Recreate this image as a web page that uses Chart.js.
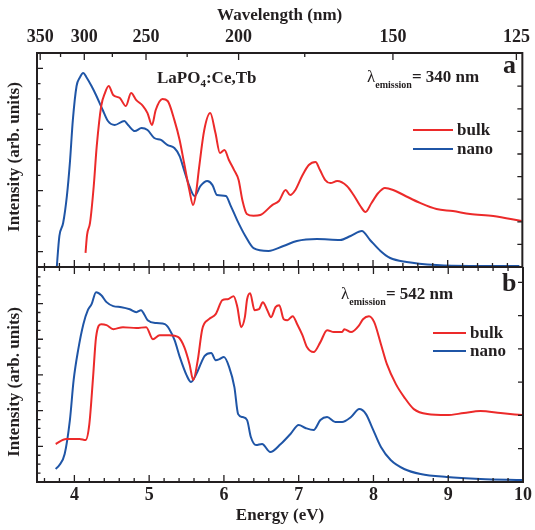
<!DOCTYPE html>
<html>
<head>
<meta charset="utf-8">
<script src="https://cdn.jsdelivr.net/npm/chart.js@4"></script>
<style>
  html, body { margin: 0; padding: 0; background: #fff; }
  #wrap { position: relative; width: 535px; height: 530px; }
  #top { position: absolute; left: 0; top: 0; }
  #bot { position: absolute; left: 0; top: 267px; }
</style>
</head>
<body>
<div id="wrap">
  <canvas id="top" width="535" height="268"></canvas>
  <canvas id="bot" width="535" height="263"></canvas>
</div>
<script>
// --- dati (energia in eV, intensità in unità arbitrarie) ---
const wavelengthLabels = [350, 300, 250, 200, 150, 125];
const wavelengthMinor = [325, 275, 225, 175];
const energyLabels = [4, 5, 6, 7, 8, 9, 10];

// pannello a: emissione 340 nm
const bulkAEnergy = [4.15,4.17,4.21,4.26,4.30,4.36,4.41,4.46,4.52,4.61,4.69,4.76,4.83,4.92,4.98,5.04,5.09,5.18,5.25,5.34,5.41,5.47,5.54,5.59,5.63,5.67,5.74,5.82,5.89,5.95,6.01,6.07,6.14,6.20,6.25,6.31,6.40,6.49,6.65,6.74,6.83,6.89,6.96,7.05,7.14,7.23,7.29,7.36,7.43,7.52,7.65,7.74,7.83,7.90,7.98,8.07,8.16,8.27,8.41,8.63,8.85,9.07,9.30,9.61,9.99];
const bulkAIntensity = [0.92,2.09,2.88,5.30,7.91,10.53,11.38,11.84,11.25,11.05,10.53,11.38,10.92,10.53,10.07,9.29,10.27,10.99,10.86,9.61,8.31,6.80,5.04,4.05,4.84,6.47,8.96,10.07,8.76,7.46,7.65,7.00,6.34,5.69,4.38,3.47,3.35,3.40,4.05,4.32,5.04,4.71,5.04,5.95,6.67,6.87,6.34,5.69,5.49,5.62,5.30,4.71,3.99,3.60,4.19,4.84,5.17,5.04,4.71,4.19,3.79,3.66,3.47,3.34,3.01];
const nanoAEnergy = [3.76,3.80,3.85,3.90,3.94,3.98,4.03,4.07,4.12,4.16,4.23,4.29,4.38,4.45,4.54,4.67,4.72,4.81,4.90,4.98,5.07,5.16,5.25,5.34,5.41,5.47,5.54,5.61,5.69,5.78,5.85,5.91,6.03,6.09,6.18,6.29,6.40,6.60,6.80,6.98,7.25,7.56,7.70,7.85,7.96,8.10,8.23,8.45,8.85,9.30,9.96];
const nanoAIntensity = [-0.3,2.03,2.88,4.64,6.80,9.61,11.84,12.36,12.69,12.43,11.84,11.25,10.27,9.55,9.29,9.55,9.29,8.89,9.09,8.96,8.44,8.31,7.98,7.78,7.26,6.34,5.30,4.64,5.30,5.62,5.36,4.71,4.64,4.05,3.07,2.03,1.24,1.05,1.37,1.70,1.83,1.77,2.03,2.35,1.77,1.05,0.59,0.33,0.13,0.07,0.07];

// pannello b: emissione 542 nm
const bulkBEnergy = [3.75,3.89,4.07,4.15,4.20,4.25,4.29,4.36,4.43,4.52,4.65,4.83,4.96,5.05,5.14,5.27,5.39,5.47,5.54,5.59,5.65,5.71,5.80,5.89,5.98,6.05,6.13,6.18,6.23,6.28,6.31,6.35,6.41,6.47,6.52,6.58,6.63,6.69,6.74,6.80,6.85,6.92,6.98,7.05,7.11,7.20,7.29,7.38,7.47,7.58,7.61,7.70,7.81,7.86,7.94,8.01,8.10,8.18,8.30,8.41,8.54,8.72,8.98,9.21,9.43,9.70,9.99];
const bulkBIntensity = [4.26,4.82,4.82,4.70,6.49,11.76,16.24,17.69,17.58,17.13,17.36,17.25,17.36,16.01,16.46,16.46,16.24,15.12,13.21,11.42,13.66,17.13,18.25,18.81,20.38,20.49,20.83,19.60,17.36,18.48,20.49,21.16,19.26,19.37,20.16,19.26,18.48,19.60,19.82,18.25,18.14,18.59,17.69,16.46,15.12,14.56,15.68,17.02,16.80,16.80,17.13,16.80,17.58,18.25,18.59,17.92,15.45,13.21,10.97,9.52,8.17,7.61,7.50,7.73,7.95,7.73,7.50];
const nanoBEnergy = [3.75,3.80,3.87,3.94,3.99,4.05,4.12,4.18,4.23,4.29,4.36,4.43,4.52,4.63,4.74,4.83,4.89,4.98,5.10,5.21,5.27,5.34,5.41,5.50,5.56,5.63,5.70,5.74,5.83,5.89,5.94,6.00,6.07,6.14,6.19,6.25,6.31,6.36,6.43,6.51,6.62,6.76,6.89,7.00,7.09,7.20,7.29,7.38,7.49,7.58,7.70,7.81,7.90,7.98,8.10,8.23,8.41,8.63,8.98,9.43,9.99];
const nanoBIntensity = [1.46,1.90,3.14,6.94,11.42,14.78,17.69,19.26,19.93,21.28,20.94,20.16,19.71,19.60,19.37,19.04,19.26,18.14,17.81,17.69,17.13,15.90,14.00,11.98,11.20,12.09,13.44,14.11,14.45,13.66,13.77,14.00,12.88,10.64,7.61,7.28,6.94,5.04,4.14,4.26,3.36,4.26,5.38,6.38,6.05,5.82,6.94,7.28,6.72,6.72,7.28,8.17,7.61,6.16,3.92,2.46,1.46,0.90,0.56,0.34,0.22];

const EV_NM = 1240; // E(eV) = 1240 / lambda(nm)

const SERIF = '"Liberation Serif", "Times New Roman", serif';
const INK = '#231f20';
const RED = '#ec2a2a';
const BLUE = '#1f55a6';
const B17 = 'bold 17px ' + SERIF;

const zip = (xs, ys) => xs.map((x, i) => ({ x, y: ys[i] }));

// tacche dell'energia: ogni 0.2 eV, le principali sugli interi
const energyTicks = [];
for (let k = 18; k <= 49; k++) energyTicks.push({ value: k / 5, major: k % 5 === 0 });
const wavelengthTicks = wavelengthLabels.map(w => ({ value: EV_NM / w, major: true }))
  .concat(wavelengthMinor.map(w => ({ value: EV_NM / w, major: false })));

// cornice con tacche rivolte verso l'interno
const frame = {
  id: 'frame',
  afterDatasetsDraw(chart, args, o) {
    const { ctx, chartArea: a, scales } = chart;
    const x = scales.x, y = scales.y, y2 = scales.y2;
    ctx.save();
    ctx.strokeStyle = INK;
    ctx.lineWidth = 1.3;
    ctx.beginPath();
    const seg = (x0, y0, x1, y1) => { ctx.moveTo(x0, y0); ctx.lineTo(x1, y1); };
    o.topTicks.forEach(t => {
      const px = x.getPixelForValue(t.value);
      seg(px, a.top, px, a.top + (t.major ? 7 : 4));
    });
    o.bottomTicks.forEach(t => {
      const px = x.getPixelForValue(t.value);
      seg(px, a.bottom, px, a.bottom - (t.major ? 7 : 4));
    });
    y.ticks.forEach(t => {
      if (t.value <= y.min || t.value >= y.max) return;
      const py = y.getPixelForValue(t.value);
      const major = (t.value - o.leftMajorFrom) % 4 === 0;
      seg(a.left, py, a.left + (major ? 6 : 3.5), py);
    });
    y2.ticks.forEach(t => {
      if (t.value <= 0 || !Number.isInteger(t.value)) return;
      const py = y2.getPixelForValue(t.value);
      seg(a.right, py, a.right - 5, py);
    });
    ctx.stroke();
    ctx.lineWidth = 2;
    ctx.strokeRect(a.left, a.top, a.right - a.left, a.bottom - a.top);
    ctx.restore();
  }
};

// testi: etichette, legenda e titolo dell'asse y
const notes = {
  id: 'notes',
  afterDraw(chart, args, o) {
    const ctx = chart.ctx;
    ctx.save();
    ctx.fillStyle = INK;
    ctx.textBaseline = 'alphabetic';
    ctx.textAlign = 'left';
    o.runs.forEach(run => {
      let x = run.x;
      run.parts.forEach(p => {
        ctx.font = p.font;
        ctx.fillText(p.text, x, run.y + (p.dy || 0));
        x += ctx.measureText(p.text).width;
      });
    });
    o.legend.forEach((l, i) => {
      const ds = chart.data.datasets[i];
      ctx.strokeStyle = ds.borderColor;
      ctx.lineWidth = 2;
      ctx.beginPath();
      ctx.moveTo(l.x0, l.y);
      ctx.lineTo(l.x1, l.y);
      ctx.stroke();
      ctx.font = B17;
      ctx.fillText(ds.label, l.x1 + 4, l.y + 5);
    });
    ctx.translate(o.yTitle.x, o.yTitle.y);
    ctx.rotate(-Math.PI / 2);
    ctx.textAlign = 'center';
    ctx.textBaseline = 'middle';
    ctx.font = B17;
    ctx.fillText('Intensity (arb. units)', 0, 0);
    ctx.restore();
  }
};

const noLabels = {
  ticks: { display: false, stepSize: 1 },
  grid: { display: false, drawTicks: false },
  border: { display: false }
};

function lineSet(label, color, data) {
  return {
    label, data,
    borderColor: color,
    borderWidth: 2,
    pointRadius: 0,
    cubicInterpolationMode: 'monotone',
    fill: false
  };
}

function emissionRun(x, y, nm) {
  return {
    x, y, parts: [
      { text: 'λ', font: '17px ' + SERIF },
      { text: 'emission', font: 'bold 10px ' + SERIF, dy: 6 },
      { text: '= ' + nm + ' nm', font: B17 }
    ]
  };
}

// --- pannello superiore (a) ---
new Chart(document.getElementById('top'), {
  type: 'line',
  data: {
    datasets: [
      lineSet('bulk', RED, zip(bulkAEnergy, bulkAIntensity)),
      lineSet('nano', BLUE, zip(nanoAEnergy, nanoAIntensity))
    ]
  },
  options: {
    responsive: false,
    animation: false,
    layout: { padding: { top: 0, bottom: 1, left: 0, right: 0 } },
    plugins: {
      legend: { display: false },
      tooltip: { enabled: false },
      frame: { topTicks: wavelengthTicks, bottomTicks: energyTicks, leftMajorFrom: 1 },
      notes: {
        runs: [
          { x: 157, y: 83, parts: [
            { text: 'LaPO', font: B17 },
            { text: '4', font: 'bold 11px ' + SERIF, dy: 4 },
            { text: ':Ce,Tb', font: B17 }
          ] },
          emissionRun(367, 82, 340),
          { x: 503, y: 73, parts: [{ text: 'a', font: 'bold 26px ' + SERIF }] }
        ],
        legend: [{ x0: 413, x1: 453, y: 130 }, { x0: 413, x1: 453, y: 149 }],
        yTitle: { x: 15, y: 157 }
      }
    },
    scales: {
      x: {
        type: 'linear', position: 'top', min: 3.5, max: 10,
        afterBuildTicks: s => { s.ticks = wavelengthLabels.map(w => ({ value: EV_NM / w })); },
        ticks: {
          autoSkip: false, maxRotation: 0, padding: 5, color: INK,
          font: { family: SERIF, size: 18, weight: 'bold' },
          callback: (v, i) => wavelengthLabels[i]
        },
        grid: { display: false, drawTicks: false },
        border: { display: false },
        title: {
          display: true, text: 'Wavelength (nm)', color: INK,
          font: { family: SERIF, size: 17, weight: 'bold' },
          padding: { top: 5, bottom: 0 }
        },
        afterFit: s => { s.height = 53; }
      },
      y: { position: 'left', min: 0, max: 14, ...noLabels, afterFit: s => { s.width = 37; } },
      y2: { position: 'right', min: 0, max: 9.47, ...noLabels, afterFit: s => { s.width = 10; } }
    }
  },
  plugins: [frame, notes]
});

// --- pannello inferiore (b) ---
new Chart(document.getElementById('bot'), {
  type: 'line',
  data: {
    datasets: [
      lineSet('bulk', RED, zip(bulkBEnergy, bulkBIntensity)),
      lineSet('nano', BLUE, zip(nanoBEnergy, nanoBIntensity))
    ]
  },
  options: {
    responsive: false,
    animation: false,
    layout: { padding: 0 },
    plugins: {
      legend: { display: false },
      tooltip: { enabled: false },
      frame: { topTicks: energyTicks, bottomTicks: energyTicks, leftMajorFrom: 0 },
      notes: {
        runs: [
          emissionRun(341, 32, 542),
          { x: 502, y: 24, parts: [{ text: 'b', font: 'bold 26px ' + SERIF }] }
        ],
        legend: [{ x0: 433, x1: 466, y: 66 }, { x0: 433, x1: 466, y: 84 }],
        yTitle: { x: 15, y: 115 }
      }
    },
    scales: {
      x: {
        type: 'linear', position: 'bottom', min: 3.5, max: 10,
        afterBuildTicks: s => { s.ticks = energyLabels.map(v => ({ value: v })); },
        ticks: {
          autoSkip: false, maxRotation: 0, padding: 3, color: INK,
          font: { family: SERIF, size: 18, weight: 'bold' }
        },
        grid: { display: false, drawTicks: false },
        border: { display: false },
        title: {
          display: true, text: 'Energy (eV)', color: INK,
          font: { family: SERIF, size: 17, weight: 'bold' },
          padding: { top: 0, bottom: 4 }
        },
        afterFit: s => { s.height = 48; }
      },
      y: { position: 'left', min: 0, max: 24.1, ...noLabels, afterFit: s => { s.width = 37; } },
      y2: { position: 'right', min: 0, max: 6.46, ...noLabels, afterFit: s => { s.width = 10; } }
    }
  },
  plugins: [frame, notes]
});
</script>
</body>
</html>
